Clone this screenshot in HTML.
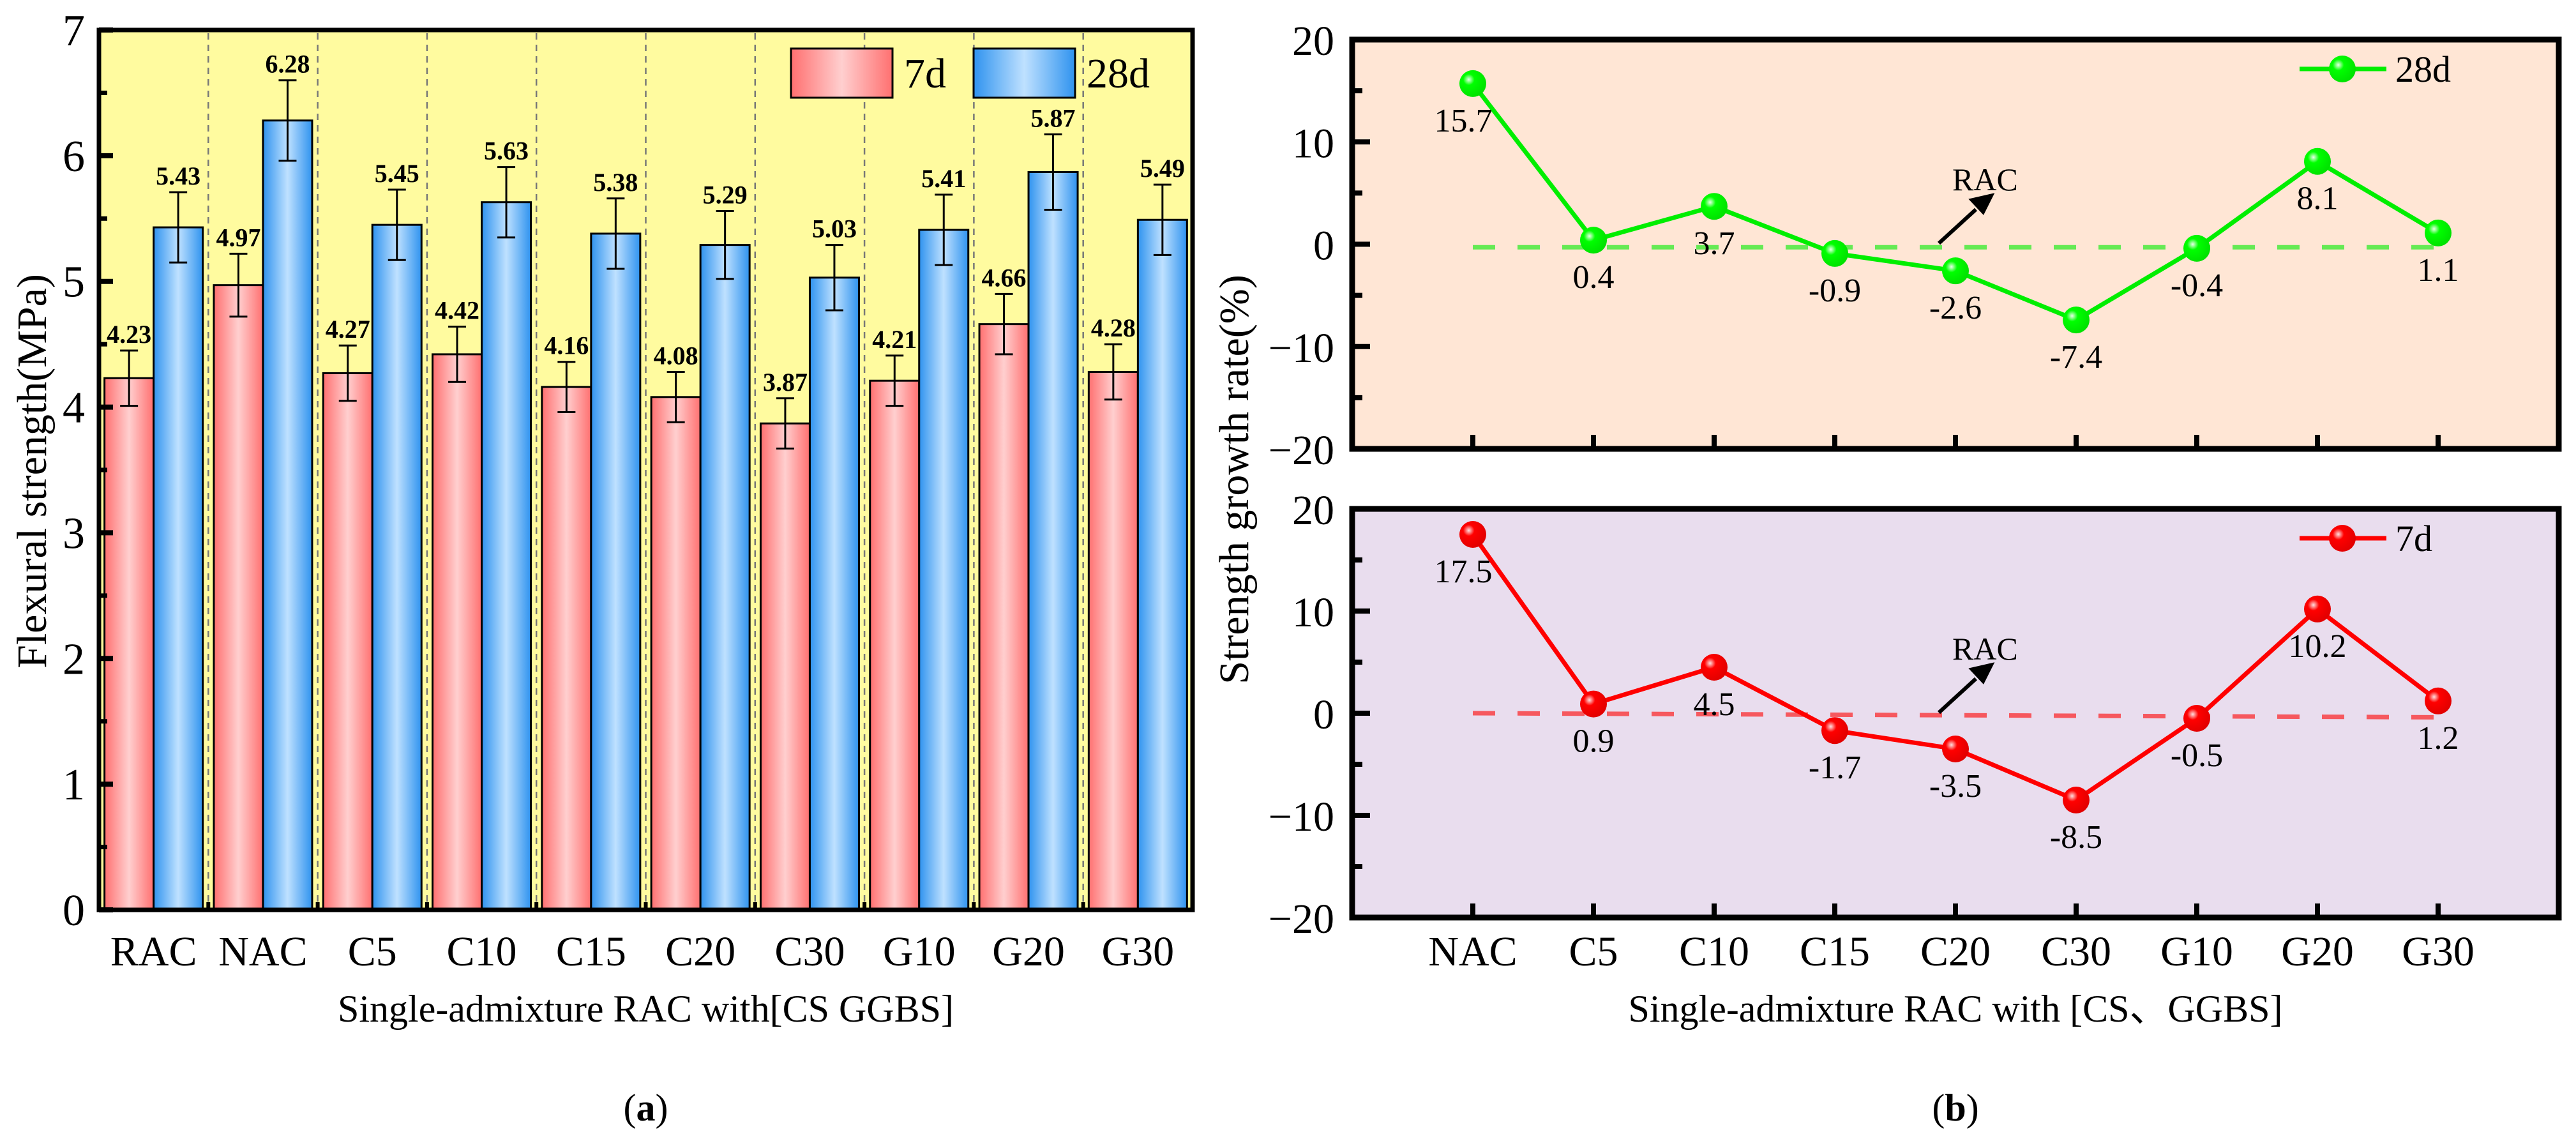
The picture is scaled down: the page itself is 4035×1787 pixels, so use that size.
<!DOCTYPE html>
<html><head><meta charset="utf-8"><style>
html,body{margin:0;padding:0;background:#fff;}
svg{display:block;font-family:"Liberation Serif",serif;}
</style></head><body>
<svg id="fig" width="4035" height="1787" viewBox="0 0 4035 1787" xmlns="http://www.w3.org/2000/svg">
<defs>
<linearGradient id="gRed" x1="0" x2="1" y1="0" y2="0">
<stop offset="0" stop-color="#ff7070"/><stop offset="0.5" stop-color="#ffcfcf"/><stop offset="1" stop-color="#ff7070"/></linearGradient>
<linearGradient id="gBlue" x1="0" x2="1" y1="0" y2="0">
<stop offset="0" stop-color="#2f93ef"/><stop offset="0.5" stop-color="#bfe1ff"/><stop offset="1" stop-color="#2f93ef"/></linearGradient>
<radialGradient id="gGreen" cx="0.35" cy="0.35" r="0.7"><stop offset="0" stop-color="#e8ffe8"/><stop offset="0.3" stop-color="#00ff00"/><stop offset="1" stop-color="#00e000"/></radialGradient>
<radialGradient id="gRedBall" cx="0.35" cy="0.35" r="0.7"><stop offset="0" stop-color="#ffe0e0"/><stop offset="0.3" stop-color="#ff0000"/><stop offset="1" stop-color="#e00000"/></radialGradient>
</defs>
<g id="left"></g>
<g id="right"></g>
</svg>
<script>
const NS="http://www.w3.org/2000/svg";
// ---- Left chart data ----
const leftCats=["RAC","NAC","C5","C10","C15","C20","C30","G10","G20","G30"];
const val7d=[4.23,4.97,4.27,4.42,4.16,4.08,3.87,4.21,4.66,4.28];
const val28d=[5.43,6.28,5.45,5.63,5.38,5.29,5.03,5.41,5.87,5.49];
const err7d=[0.22,0.25,0.22,0.22,0.2,0.2,0.2,0.2,0.24,0.22];
const err28d=[0.28,0.32,0.28,0.28,0.28,0.27,0.26,0.28,0.3,0.28];
const leftTicks=[0,1,2,3,4,5,6,7];
// ---- Right chart data ----
const rightCats=["NAC","C5","C10","C15","C20","C30","G10","G20","G30"];
const rate28d=[15.7,0.4,3.7,-0.9,-2.6,-7.4,-0.4,8.1,1.1];
const rate7d=[17.5,0.9,4.5,-1.7,-3.5,-8.5,-0.5,10.2,1.2];
const rightTicks=[-20,-10,0,10,20];
const racLine28=[-0.3,-0.3];
const racLine7=[0,-0.4];

function el(tag,attrs,parent,text){const e=document.createElementNS(NS,tag);for(const k in attrs)e.setAttribute(k,attrs[k]);if(text!==undefined)e.textContent=text;parent.appendChild(e);return e;}

// ===== Left =====
const L=document.getElementById('left');
const lx0=155,lx1=1868,ly0=47,ly1=1425;
const lcw=(lx1-lx0)/leftCats.length;
const lY=v=>ly1-(v/7)*(ly1-ly0);
const lX=i=>lx0+lcw*(i+0.5);
let bg=el('rect',{x:lx0,y:ly0,width:lx1-lx0,height:ly1-ly0,fill:'#fffb9f'},L);

for(let i=1;i<leftCats.length;i++){
  const s=el('line',{x1:lx0+lcw*i,x2:lx0+lcw*i,y1:ly0+5,y2:ly1,stroke:'#777','stroke-width':2.5,'stroke-dasharray':'10 8'},L);
  
}
const bw=77;
leftCats.forEach((c,i)=>{
  const cx=lX(i);
  [[val7d,err7d,'url(#gRed)',cx-bw,'bar-7d-'],[val28d,err28d,'url(#gBlue)',cx,'bar-28d-']].forEach(([vals,errs,fill,x,nm])=>{
    const v=vals[i],e=errs[i];
    const r=el('rect',{x:x,y:lY(v),width:bw,height:ly1-lY(v),fill:fill,stroke:'#000','stroke-width':3},L);
    
    const mx=x+bw/2;
    const g=el('g',{stroke:'#000','stroke-width':3},L);
    
    el('line',{x1:mx,x2:mx,y1:lY(v+e),y2:lY(v-e)},g);
    el('line',{x1:mx-14,x2:mx+14,y1:lY(v+e),y2:lY(v+e)},g);
    el('line',{x1:mx-14,x2:mx+14,y1:lY(v-e),y2:lY(v-e)},g);
    const t=el('text',{x:mx,y:lY(v+e)-12,'text-anchor':'middle','font-size':40,'font-weight':'bold'},L,v.toFixed(2));
    
  });
  const tl=el('text',{x:cx,y:1512,'text-anchor':'middle','font-size':66},L,c);
  
  if(i>0){const tk=el('line',{x1:lx0+lcw*i,x2:lx0+lcw*i,y1:ly1,y2:ly1-12,stroke:'#000','stroke-width':6},L);
  }
});
leftTicks.forEach(v=>{
  const tk=el('line',{x1:lx0,x2:lx0+22,y1:lY(v),y2:lY(v),stroke:'#000','stroke-width':8},L);
  
  if(v<7){const m=el('line',{x1:lx0,x2:lx0+13,y1:lY(v+0.5),y2:lY(v+0.5),stroke:'#000','stroke-width':7},L);
  }
  const t=el('text',{x:lx0-22,y:lY(v)+24,'text-anchor':'end','font-size':70},L,String(v));
  
});
let fr=el('rect',{x:lx0,y:ly0,width:lx1-lx0,height:ly1-ly0,fill:'none',stroke:'#000','stroke-width':7},L);

let lg=el('g',{},L);
let lr=el('rect',{x:1239,y:76,width:159,height:77,fill:'url(#gRed)',stroke:'#000','stroke-width':3},lg);

let lt=el('text',{x:1416,y:137,'font-size':66},lg,'7d');
let lb=el('rect',{x:1525,y:76,width:159,height:77,fill:'url(#gBlue)',stroke:'#000','stroke-width':3},lg);

let lt2=el('text',{x:1702,y:137,'font-size':66},lg,'28d');
let yt=el('text',{x:72,y:738,'text-anchor':'middle','font-size':66,transform:'rotate(-90 72 738)'},L,'Flexural strength(MPa)');

let xt=el('text',{x:(lx0+lx1)/2,y:1600,'text-anchor':'middle','font-size':60},L,'Single-admixture RAC with[CS GGBS]');

let pa=el('text',{x:(lx0+lx1)/2,y:1755,'text-anchor':'middle','font-size':60},L);

pa.innerHTML='(<tspan font-weight="bold">a</tspan>)';

// ===== Right =====
const R=document.getElementById('right');
const rx0=2118,rx1=4008;
const rX=i=>rx0+(rx1-rx0)*(i+1)/10;
function panel(top,bot,vals,racLine,color,ball,bgc,name,showX){
  const Y=v=>top+(20-v)/40*(bot-top);
  const b=el('rect',{x:rx0,y:top,width:rx1-rx0,height:bot-top,fill:bgc},R);
  
  const dl=el('line',{x1:rX(0),x2:rX(vals.length-1),y1:Y(racLine[0]),y2:Y(racLine[1]),stroke:color,'stroke-width':7,'stroke-dasharray':'35 35',opacity:0.6},R);
  
  const pts=vals.map((v,i)=>rX(i)+','+Y(v)).join(' ');
  const pl=el('polyline',{points:pts,fill:'none',stroke:color,'stroke-width':7},R);
  
  vals.forEach((v,i)=>{
    const c=el('circle',{cx:rX(i),cy:Y(v),r:21,fill:ball},R);
    
    let lx=rX(i),ly=Y(v)+75;
    if(i===0){lx-=15;}
    const t=el('text',{x:lx,y:ly,'text-anchor':'middle','font-size':52},R,String(v));
    
  });
  rightTicks.forEach(v=>{
    const tk=el('line',{x1:rx0,x2:rx0+28,y1:Y(v),y2:Y(v),stroke:'#000','stroke-width':8},R);
    
    if(v<20){const m=el('line',{x1:rx0,x2:rx0+16,y1:Y(v+5),y2:Y(v+5),stroke:'#000','stroke-width':8},R);
    }
    const t=el('text',{x:rx0-28,y:Y(v)+24,'text-anchor':'end','font-size':66},R,v<0?'\u2212'+Math.abs(v):String(v));
    
  });
  rightCats.forEach((c,i)=>{
    const tk=el('line',{x1:rX(i),x2:rX(i),y1:bot,y2:bot-22,stroke:'#000','stroke-width':8},R);
    
    if(showX){const t=el('text',{x:rX(i),y:1512,'text-anchor':'middle','font-size':66},R,c);
    }
  });
  const f=el('rect',{x:rx0,y:top,width:rx1-rx0,height:bot-top,fill:'none',stroke:'#000','stroke-width':9},R);
  
  const off=top-62;
  const rt=el('text',{x:3058,y:298+off,'font-size':50},R,'RAC');
  
  const ar=el('g',{},R);
  el('line',{x1:3037,y1:381+off,x2:3095,y2:328+off,stroke:'#000','stroke-width':6},ar);
  el('polygon',{points:`3117,${308+off} 3091,${314+off} 3106,${330+off}`,fill:'#000',stroke:'#000','stroke-width':8},ar);
  const lgd=el('g',{},R);
  const ly=top+46;
  el('line',{x1:3602,x2:3738,y1:ly,y2:ly,stroke:color,'stroke-width':7},lgd);
  el('circle',{cx:3669,cy:ly,r:21,fill:ball},lgd);
  el('text',{x:3752,y:ly+20,'font-size':58},lgd,name==='upper'?'28d':'7d');
}
panel(62,703,rate28d,racLine28,'#00ee00','url(#gGreen)','#ffe6d5','upper',false);
panel(797,1437,rate7d,racLine7,'#ff0000','url(#gRedBall)','#e9ddee','lower',true);
let ryt=el('text',{x:1955,y:751,'text-anchor':'middle','font-size':66,transform:'rotate(-90 1955 751)'},R,'Strength growth rate(%)');

let rxt=el('text',{x:3063,y:1600,'text-anchor':'middle','font-size':60},R);

rxt.innerHTML='Single-admixture RAC with [CS<tspan font-family="Noto Sans CJK SC, sans-serif">、</tspan>GGBS]';
let pb=el('text',{x:3063,y:1755,'text-anchor':'middle','font-size':60},R);

pb.innerHTML='(<tspan font-weight="bold">b</tspan>)';
</script>
</body></html>
